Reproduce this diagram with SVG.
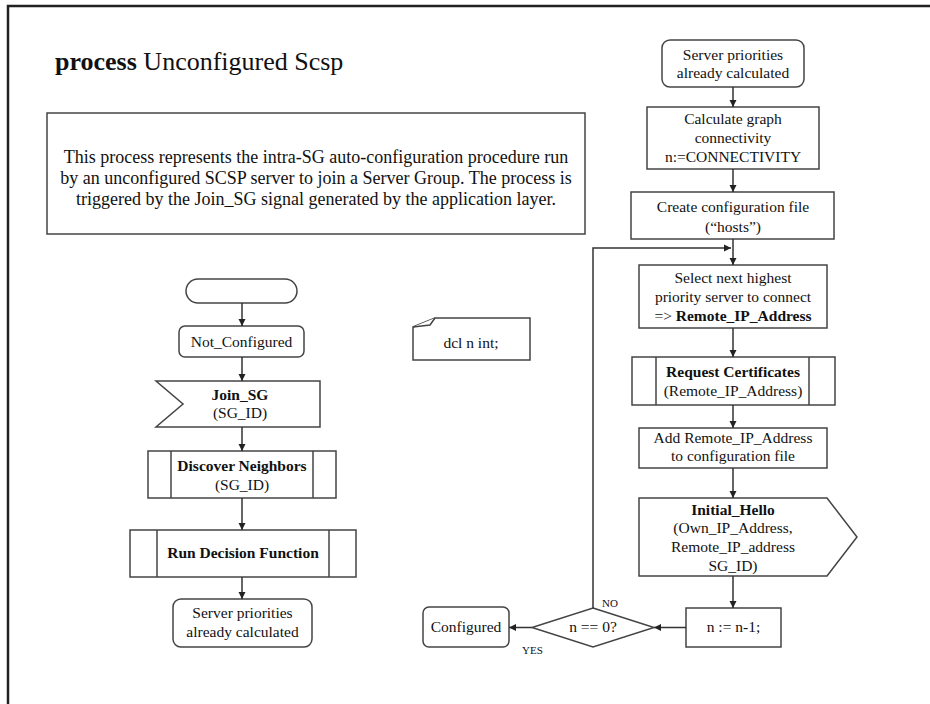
<svg xmlns="http://www.w3.org/2000/svg" width="930" height="704" viewBox="0 0 930 704" font-family="'Liberation Serif', 'DejaVu Serif', serif">
  <style>
    text { font-family: 'Liberation Serif', 'DejaVu Serif', serif; fill: #111; }
    .t { font-size: 15.5px; text-anchor: middle; }
    .d { font-size: 18px; text-anchor: middle; }
    .b { font-weight: bold; }
    .box { fill: #fff; stroke: #444; stroke-width: 1.5; }
    .edge { fill: none; stroke: #333; stroke-width: 1.5; }
    .lbl { font-size: 11px; }
  </style>
  <defs>
    <marker id="arrow" markerWidth="8" markerHeight="8" refX="7" refY="4" orient="auto" markerUnits="userSpaceOnUse">
      <path d="M0,0.5 L7,4 L0,7.5 Z" fill="#222"/>
    </marker>
  </defs>

  <rect width="930" height="704" fill="#fff"/>
  <!-- page frame -->
  <path d="M8,704 L8,6 L930,6" fill="none" stroke="#222" stroke-width="2.5"/>

  <!-- title -->
  <text x="55" y="70" font-size="26"><tspan font-weight="bold">process</tspan> Unconfigured Scsp</text>

  <!-- description -->
  <g id="description">
    <rect class="box" x="47" y="113" width="538" height="121"/>
    <text class="d" x="316" y="163">This process represents the intra-SG auto-configuration procedure run</text>
    <text class="d" x="316" y="184">by an unconfigured SCSP server to join a Server Group. The process is</text>
    <text class="d" x="316" y="205">triggered by the Join_SG signal generated by the application layer.</text>
  </g>

  <!-- left flow -->
  <g id="start">
    <rect class="box" x="186" y="279" width="111" height="24" rx="12"/>
  </g>
  <g id="not_configured">
    <rect class="box" x="179" y="326" width="125" height="31" rx="6"/>
    <text class="t" x="241.5" y="347">Not_Configured</text>
  </g>
  <g id="join_sg">
    <polygon class="box" points="156,381 320,381 320,427 156,427 183,404"/>
    <text class="t b" x="240" y="400">Join_SG</text>
    <text class="t" x="240" y="418">(SG_ID)</text>
  </g>
  <g id="discover_neighbors">
    <rect class="box" x="148" y="451" width="188" height="47"/>
    <line class="box" x1="171" y1="451" x2="171" y2="498"/>
    <line class="box" x1="313" y1="451" x2="313" y2="498"/>
    <text class="t b" x="242" y="471">Discover Neighbors</text>
    <text class="t" x="242" y="490">(SG_ID)</text>
  </g>
  <g id="run_decision">
    <rect class="box" x="130" y="530" width="226" height="47"/>
    <line class="box" x1="157" y1="530" x2="157" y2="577"/>
    <line class="box" x1="329" y1="530" x2="329" y2="577"/>
    <text class="t b" x="243" y="558">Run Decision Function</text>
  </g>
  <g id="priorities_done">
    <rect class="box" x="173" y="599" width="139" height="48" rx="8"/>
    <text class="t" x="242.5" y="618">Server priorities</text>
    <text class="t" x="242.5" y="637">already calculated</text>
  </g>

  <!-- declaration -->
  <g id="dcl">
    <polygon class="box" points="413,327 435,318 530,318 530,360 413,360"/>
    <polyline class="box" points="413,327 430,325 435,318" fill="none"/>
    <text class="t" x="471" y="348">dcl n int;</text>
  </g>

  <!-- right flow -->
  <g id="priorities_start">
    <rect class="box" x="662" y="40" width="142" height="47" rx="8"/>
    <text class="t" x="733" y="60">Server priorities</text>
    <text class="t" x="733" y="78">already calculated</text>
  </g>
  <g id="calc_connectivity">
    <rect class="box" x="647" y="107" width="172" height="62"/>
    <text class="t" x="733" y="124">Calculate graph</text>
    <text class="t" x="733" y="143">connectivity</text>
    <text class="t" x="733" y="162">n:=CONNECTIVITY</text>
  </g>
  <g id="create_config">
    <rect class="box" x="631" y="192" width="203" height="47"/>
    <text class="t" x="733" y="212">Create configuration file</text>
    <text class="t" x="733" y="232">(“hosts”)</text>
  </g>
  <g id="select_next">
    <rect class="box" x="639" y="265" width="188" height="63"/>
    <text class="t" x="733" y="283">Select next highest</text>
    <text class="t" x="733" y="302">priority server to connect</text>
    <text class="t" x="733" y="321">=&gt; <tspan font-weight="bold">Remote_IP_Address</tspan></text>
  </g>
  <g id="request_certs">
    <rect class="box" x="632" y="357" width="203" height="48"/>
    <line class="box" x1="656" y1="357" x2="656" y2="405"/>
    <line class="box" x1="809" y1="357" x2="809" y2="405"/>
    <text class="t b" x="733" y="377">Request Certificates</text>
    <text class="t" x="733" y="396">(Remote_IP_Address)</text>
  </g>
  <g id="add_remote">
    <rect class="box" x="639" y="428" width="188" height="40"/>
    <text class="t" x="733" y="443">Add Remote_IP_Address</text>
    <text class="t" x="733" y="461">to configuration file</text>
  </g>
  <g id="initial_hello">
    <polygon class="box" points="639,498 827,498 857,537 827,576 639,576"/>
    <text class="t b" x="733" y="515">Initial_Hello</text>
    <text class="t" x="733" y="533">(Own_IP_Address,</text>
    <text class="t" x="733" y="552">Remote_IP_address</text>
    <text class="t" x="733" y="571">SG_ID)</text>
  </g>
  <g id="decrement">
    <rect class="box" x="686" y="608" width="95" height="39"/>
    <text class="t" x="733.5" y="632">n := n-1;</text>
  </g>
  <g id="check_n">
    <polygon class="box" points="593,608 654,627.5 593,647 532,627.5"/>
    <text class="t" x="593" y="632">n == 0?</text>
  </g>
  <g id="configured">
    <rect class="box" x="423" y="607" width="86" height="40" rx="6"/>
    <text class="t" x="466" y="632">Configured</text>
  </g>

  <!-- connectors -->
  <g id="connectors">
    <line class="edge" x1="242" y1="303" x2="242" y2="326" marker-end="url(#arrow)"/>
    <line class="edge" x1="242" y1="357" x2="242" y2="381" marker-end="url(#arrow)"/>
    <line class="edge" x1="242" y1="427" x2="242" y2="451" marker-end="url(#arrow)"/>
    <line class="edge" x1="242" y1="498" x2="242" y2="530" marker-end="url(#arrow)"/>
    <line class="edge" x1="242" y1="577" x2="242" y2="599" marker-end="url(#arrow)"/>

    <line class="edge" x1="733" y1="87" x2="733" y2="107" marker-end="url(#arrow)"/>
    <line class="edge" x1="733" y1="169" x2="733" y2="192" marker-end="url(#arrow)"/>
    <line class="edge" x1="733" y1="239" x2="733" y2="265" marker-end="url(#arrow)"/>
    <line class="edge" x1="733" y1="328" x2="733" y2="357" marker-end="url(#arrow)"/>
    <line class="edge" x1="733" y1="405" x2="733" y2="428" marker-end="url(#arrow)"/>
    <line class="edge" x1="733" y1="468" x2="733" y2="498" marker-end="url(#arrow)"/>
    <line class="edge" x1="733" y1="576" x2="733" y2="608" marker-end="url(#arrow)"/>

    <polyline class="edge" points="593,608 593,248 731,248" marker-end="url(#arrow)"/>
    <line class="edge" x1="686" y1="627.5" x2="654" y2="627.5" marker-end="url(#arrow)"/>
    <line class="edge" x1="532" y1="627.5" x2="509" y2="627.5" marker-end="url(#arrow)"/>

    <text class="lbl" x="602" y="607">NO</text>
    <text class="lbl" x="522" y="654">YES</text>
  </g>
</svg>
